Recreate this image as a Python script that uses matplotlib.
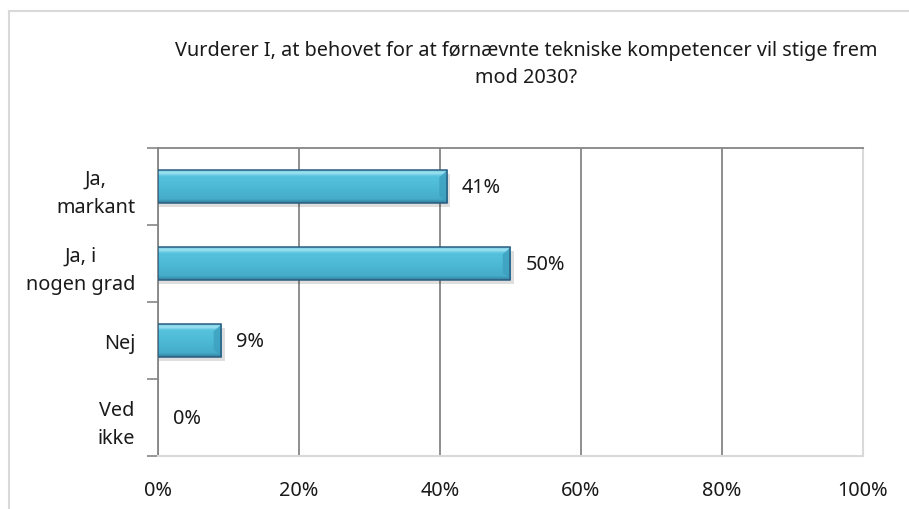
import matplotlib.pyplot as plt
import numpy as np
from matplotlib.colors import LinearSegmentedColormap
from matplotlib.patches import Rectangle, Polygon

plt.rcParams['font.family'] = ['Noto Sans', 'DejaVu Sans']

titel = "Vurderer I, at behovet for at førnævnte tekniske kompetencer vil stige frem\nmod 2030?"
kategorier = ["Ja,\nmarkant", "Ja, i\nnogen grad", "Nej", "Ved\nikke"]
andele = [41, 50, 9, 0]
xticks = [0, 20, 40, 60, 80, 100]

# lodret farveforloeb til soejlerne: moerk bund, jaevn cyan, lys kant foroven
bar_cmap = LinearSegmentedColormap.from_list(
    "bar", [(0.0, "#34809f"), (0.12, "#45acc9"), (0.5, "#4dbad6"),
            (0.82, "#56c2dd"), (0.92, "#9fe2f1"), (1.0, "#72cde4")])

fig = plt.figure(figsize=(9.09, 5.10), dpi=100)
ax = fig.add_axes([0.1738, 0.1039, 0.7756, 0.6039])

ypos = np.arange(len(kategorier))
h = 0.42
grad = np.linspace(0, 1, 64).reshape(-1, 1)
fs = 14.3

for y, v in zip(ypos, andele):
    if v > 0:
        # skygge under soejlen
        ax.add_patch(Rectangle((0.2, y - h / 2 + 0.05), v + 0.25, h, facecolor="#000000",
                               alpha=0.13, edgecolor="none", zorder=2))
        ax.imshow(grad, cmap=bar_cmap, aspect="auto", origin="lower",
                  extent=(0, v, y + h / 2, y - h / 2), zorder=3)
        # skraa affasning i hoejre ende
        ax.add_patch(Polygon([(v - 1.1, y - h / 2 + 0.09), (v, y - h / 2),
                              (v, y + h / 2), (v - 1.1, y + h / 2 - 0.09)],
                             closed=True, facecolor="#3d9fbf", edgecolor="none",
                             alpha=0.8, zorder=3.5))
        ax.add_patch(Rectangle((0, y - h / 2), v, h, facecolor="none",
                               edgecolor="#2c5d80", linewidth=1.1, zorder=4))
    ax.text(v + 2.1, y, f"{v}%", va="center", ha="left", fontsize=fs, color="#1a1a1a")

ax.set_xlim(0, 100)
ax.set_ylim(len(kategorier) - 0.5, -0.5)
ax.set_xticks(xticks)
ax.set_xticklabels([f"{t}%" for t in xticks], fontsize=fs, color="#1a1a1a")
ax.tick_params(axis="x", length=0, pad=17)

ax.set_yticks(np.arange(len(kategorier) + 1) - 0.5)
ax.set_yticklabels([])
ax.set_yticks(ypos, minor=True)
ax.set_yticklabels(kategorier, minor=True, fontsize=fs, color="#1a1a1a",
                   multialignment="center", linespacing=1.55)
ax.tick_params(axis="y", which="major", length=8, width=1.2, color="#868686")
ax.tick_params(axis="y", which="minor", length=0, pad=16.5)

ax.grid(axis="x", color="#868686", linewidth=1.3, zorder=0)
ax.set_axisbelow(True)
ax.spines["left"].set_color("#868686")
ax.spines["left"].set_linewidth(1.3)
ax.spines["top"].set_color("#868686")
ax.spines["top"].set_linewidth(1.3)
ax.spines["right"].set_color("#d9d9d9")
ax.spines["right"].set_linewidth(1.5)
ax.spines["bottom"].set_color("#d9d9d9")
ax.spines["bottom"].set_linewidth(1.5)

fig.text(0.579, 0.874, titel, ha="center", va="center", fontsize=fs,
         color="#1a1a1a", linespacing=1.5)

# ramme om diagramomraadet
fig.add_artist(plt.Line2D([9 / 909, 1], [1 - 12 / 510, 1 - 12 / 510], color="#d9d9d9", lw=1.5))
fig.add_artist(plt.Line2D([9 / 909, 9 / 909], [0, 1 - 12 / 510], color="#d9d9d9", lw=1.5))

fig.savefig("out.png", dpi=100)
